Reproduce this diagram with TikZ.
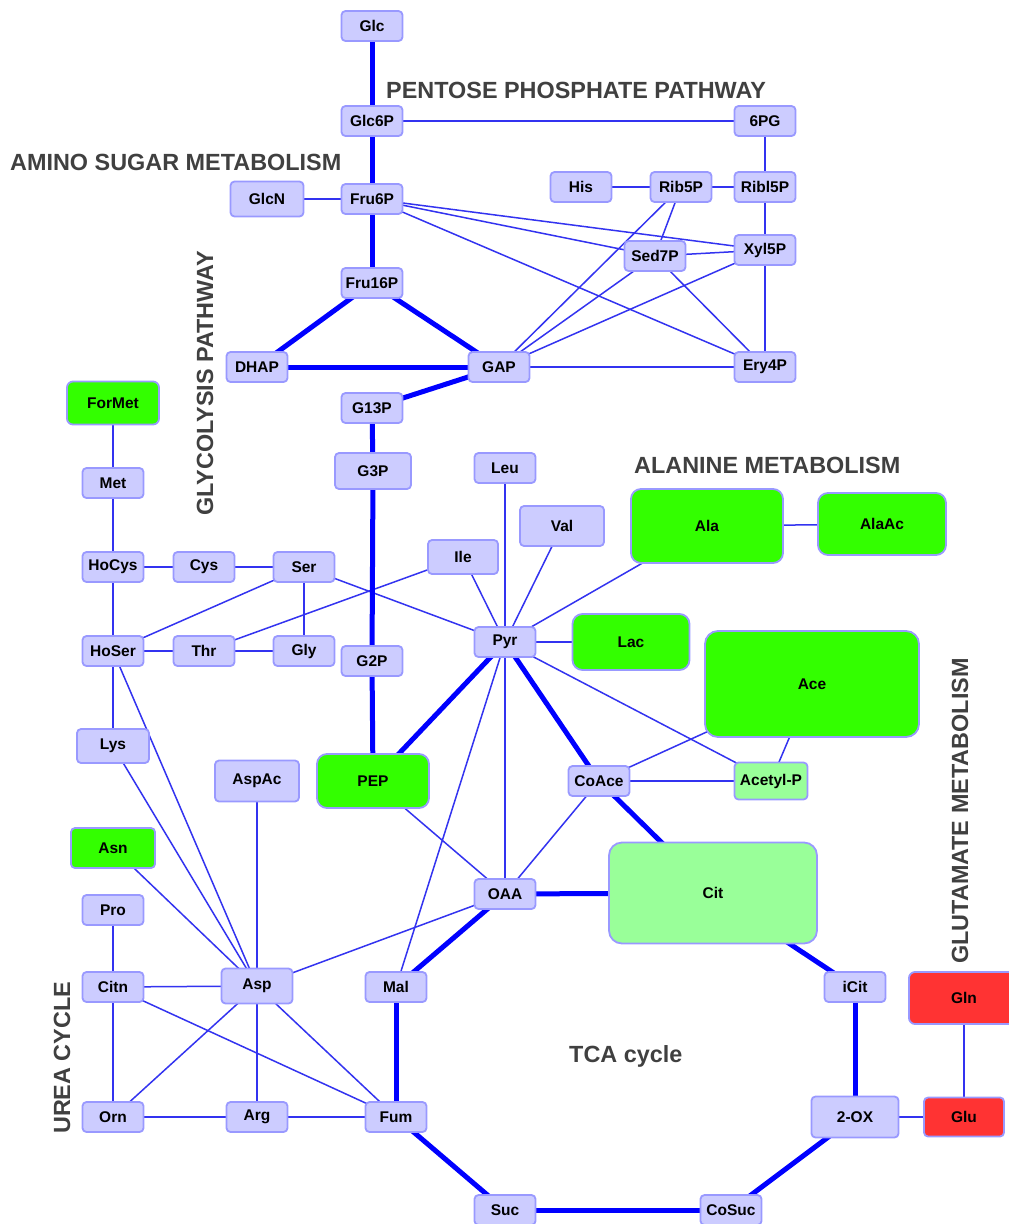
\documentclass[tikz,border=0pt]{standalone}
\usepackage{fontspec}
\setmainfont{Liberation Sans}
\usetikzlibrary{backgrounds}
\definecolor{lav}{HTML}{CCCCFF}
\definecolor{lavb}{HTML}{9999FF}
\definecolor{grn}{HTML}{33FF00}
\definecolor{lgrn}{HTML}{99FF99}
\definecolor{redn}{HTML}{FF3333}
\definecolor{edgec}{HTML}{3333F0}
\definecolor{thickc}{HTML}{0000FF}
\definecolor{sect}{HTML}{404040}
\begin{document}
\begin{tikzpicture}[x=1pt,y=-1pt,
  met/.style={draw=lavb, fill=lav, line width=1.8pt, rounded corners=4pt,
    minimum width=61pt, minimum height=30pt, inner sep=0pt,
    font=\fontsize{15.5}{18}\selectfont\bfseries},
  big/.style={rounded corners=10pt},
  gr/.style={fill=grn}, lg/.style={fill=lgrn}, rd/.style={fill=redn},
  sz/.style 2 args={minimum width=#1pt, minimum height=#2pt},
  thin/.style={draw=edgec, line width=1.5pt},
  thk/.style={draw=thickc, line width=5pt},
  sec/.style={text=sect, font=\fontsize{23.4}{27}\selectfont\bfseries, inner sep=0pt, anchor=base west},
]
\useasboundingbox (0,0) rectangle (1009,1224);
% nodes
\node[met] (Glc) at (372,26) {Glc};
\node[met] (Glc6P) at (372,121) {Glc6P};
\node[met] (PG6) at (765,121) {6PG};
\node[met] (Fru6P) at (372,199) {Fru6P};
\node[met,sz={73}{35}] (GlcN) at (267,199) {GlcN};
\node[met] (His) at (581,187) {His};
\node[met] (Rib5P) at (681,187) {Rib5P};
\node[met] (Ribl5P) at (765,187) {Ribl5P};
\node[met] (Xyl5P) at (765,250) {Xyl5P};
\node[met] (Sed7P) at (655,256) {Sed7P};
\node[met] (Fru16P) at (372,283) {Fru16P};
\node[met] (DHAP) at (257,367) {DHAP};
\node[met] (GAP) at (499,367) {GAP};
\node[met] (Ery4P) at (765,367) {Ery4P};
\node[met] (G13P) at (372,408) {G13P};
\node[met,gr,sz={92}{43},rounded corners=6pt] (ForMet) at (113,403) {ForMet};
\node[met,sz={76}{36}] (G3P) at (373,471) {G3P};
\node[met] (Leu) at (505,468) {Leu};
\node[met] (Met) at (113,483) {Met};
\node[met,sz={84}{40}] (Val) at (562,526) {Val};
\node[met,sz={70}{34}] (Ile) at (463,557) {Ile};
\node[met] (HoCys) at (113,567) {HoCys};
\node[met] (Cys) at (204,567) {Cys};
\node[met] (Ser) at (304,567) {Ser};
\node[met] (HoSer) at (113,651) {HoSer};
\node[met] (Thr) at (204,651) {Thr};
\node[met] (Gly) at (304,651) {Gly};
\node[met] (G2P) at (372,661) {G2P};
\node[met] (Pyr) at (505,642) {Pyr};
\node[met,gr,big,sz={152}{74}] (Ala) at (707,526) {Ala};
\node[met,gr,big,sz={128}{62}] (AlaAc) at (882,524) {AlaAc};
\node[met,gr,big,sz={117}{56}] (Lac) at (631,642) {Lac};
\node[met,gr,sz={214}{106},rounded corners=13pt] (Ace) at (812,684) {Ace};
\node[met,lg,sz={73}{37}] (AcP) at (771,781) {Acetyl-P};
\node[met] (CoAce) at (599,781) {CoAce};
\node[met,gr,big,sz={112}{54}] (PEP) at (373,781) {PEP};
\node[met,lg,sz={208}{101},rounded corners=13pt] (Cit) at (713,893) {Cit};
\node[met] (OAA) at (505,894) {OAA};
\node[met,sz={72}{34}] (Lys) at (113,746) {Lys};
\node[met,sz={84}{41}] (AspAc) at (257,781) {AspAc};
\node[met,gr,sz={84}{40}] (Asn) at (113,848) {Asn};
\node[met] (Pro) at (113,910) {Pro};
\node[met] (Citn) at (113,987) {Citn};
\node[met,sz={71}{35}] (Asp) at (257,986) {Asp};
\node[met] (Mal) at (396,987) {Mal};
\node[met] (Orn) at (113,1117) {Orn};
\node[met] (Arg) at (257,1117) {Arg};
\node[met] (Fum) at (396,1117) {Fum};
\node[met] (Suc) at (505,1210) {Suc};
\node[met] (CoSuc) at (731,1210) {CoSuc};
\node[met] (iCit) at (855,987) {iCit};
\node[met,sz={87}{41}] (OX) at (855,1117) {2-OX};
\node[met,rd,sz={80}{39}] (Glu) at (964,1117) {Glu};
\node[met,rd,sz={110}{52},rounded corners=6pt] (Gln) at (964,998) {Gln};
% section labels
\node[sec] (lPPP) at (386,98) {PENTOSE PHOSPHATE PATHWAY};
\node[sec] (lAS) at (10,170) {AMINO SUGAR METABOLISM};
\node[sec] (lAla) at (634,473) {ALANINE METABOLISM};
\node[sec] (lTCA) at (569,1062) {TCA cycle};
\node[sec,rotate=90] (lGly) at (213,516) {GLYCOLYSIS PATHWAY};
\node[sec,rotate=90] (lGlu) at (968,964) {GLUTAMATE METABOLISM};
\node[sec,rotate=90] (lUrea) at (70,1134) {UREA CYCLE};
% edges
\begin{scope}[on background layer]
\fill[white] (0,0) rectangle (1009,1224);
% thin edges
\foreach \a/\b in {Glc6P/PG6, PG6/Ribl5P, GlcN/Fru6P, His/Rib5P, Rib5P/Ribl5P,
  Ribl5P/Xyl5P, Xyl5P/Ery4P, Fru6P/Xyl5P, Fru6P/Sed7P, Fru6P/Ery4P,
  Sed7P/Xyl5P, Rib5P/Sed7P, Rib5P/GAP, Sed7P/GAP, Xyl5P/GAP, Sed7P/Ery4P, GAP/Ery4P,
  ForMet/Met, Met/HoCys, HoCys/Cys, Cys/Ser, HoCys/HoSer, HoSer/Ser, HoSer/Thr,
  Thr/Gly, Ser/Gly, Thr/Ile, Ser/Pyr, HoSer/Lys, HoSer/Asp, Lys/Asp, Asn/Asp,
  AspAc/Asp, Pro/Citn, Citn/Asp, Citn/Orn, Citn/Fum, Asp/Orn, Asp/Arg, Asp/Fum,
  Asp/OAA, Orn/Arg, Arg/Fum,
  Leu/Pyr, Val/Pyr, Ile/Pyr, Ala/Pyr, Lac/Pyr, Pyr/AcP, Pyr/OAA, Pyr/Mal,
  PEP/OAA, CoAce/OAA, CoAce/AcP, CoAce/Ace, Ace/AcP, Ala/AlaAc, Gln/Glu, OX/Glu}
  \draw[thin] (\a.center) -- (\b.center);
% thick edges
\foreach \a/\b in {Glc/Glc6P, Glc6P/Fru6P, Fru6P/Fru16P, Fru16P/DHAP, Fru16P/GAP,
  DHAP/GAP, GAP/G13P, G13P/G3P, G3P/G2P, G2P/PEP, PEP/Pyr, Pyr/CoAce, CoAce/Cit,
  OAA/Cit, Cit/iCit, iCit/OX, OX/CoSuc, CoSuc/Suc, Suc/Fum, Fum/Mal, Mal/OAA}
  \draw[thk] (\a.center) -- (\b.center);
\end{scope}
\end{tikzpicture}
\end{document}
